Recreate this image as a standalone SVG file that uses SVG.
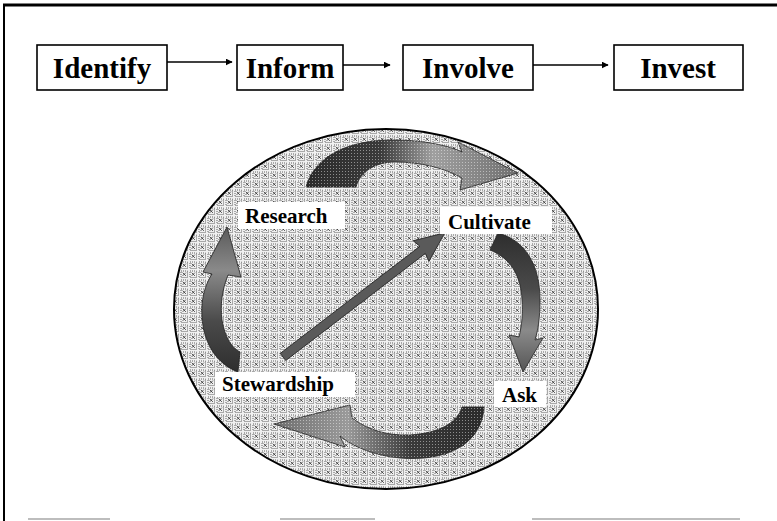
<svg xmlns="http://www.w3.org/2000/svg" width="777" height="521" viewBox="0 0 777 521">
  <style>
    .box { fill: #ffffff; stroke: #000000; stroke-width: 1.6; }
    .lbl { font-family: "Liberation Serif", "Times New Roman", serif; font-weight: bold; font-size: 29px; fill: #000000; }
    .clbl { font-family: "Liberation Serif", "Times New Roman", serif; font-weight: bold; font-size: 21px; fill: #000000; }
    .tag { fill: #ffffff; stroke: none; }
    .flow { stroke: #000000; stroke-width: 1.5; fill: none; }
    .cyc { stroke: #222222; stroke-width: 0.8; }
  </style>
  <defs>
    <marker id="ah" viewBox="0 0 10 10" refX="9" refY="5" markerWidth="7" markerHeight="7" markerUnits="userSpaceOnUse" orient="auto">
      <path d="M0 0 L10 5 L0 10 Z" fill="#000000"/>
    </marker>
    <pattern id="mesh" width="9" height="9" patternUnits="userSpaceOnUse">
      <rect width="9" height="9" fill="#f0f0f0"/>
      <rect x="1" y="1" width="6.5" height="6.5" fill="none" stroke="#3c3c3c" stroke-width="0.8" stroke-dasharray="1 1"/>
      <path d="M2.6 2.6 L5.9 5.9 M5.9 2.6 L2.6 5.9" stroke="#2c2c2c" stroke-width="0.8"/>
    </pattern>
    <pattern id="dots" width="3" height="3" patternUnits="userSpaceOnUse">
      <rect width="3" height="3" fill="none"/>
      <rect x="0" y="0" width="1" height="1" fill="#ffffff" fill-opacity="0.45"/>
    </pattern>
    <linearGradient id="gTop" x1="0" y1="0" x2="1" y2="0">
      <stop offset="0" stop-color="#2a2a2a"/>
      <stop offset="0.35" stop-color="#3a3a3a"/>
      <stop offset="0.6" stop-color="#a0a0a0"/>
      <stop offset="1" stop-color="#6e6e6e"/>
    </linearGradient>
    <linearGradient id="gBot" x1="1" y1="0" x2="0" y2="0">
      <stop offset="0" stop-color="#2a2a2a"/>
      <stop offset="0.35" stop-color="#3a3a3a"/>
      <stop offset="0.65" stop-color="#9a9a9a"/>
      <stop offset="1" stop-color="#6e6e6e"/>
    </linearGradient>
    <linearGradient id="gRight" x1="0" y1="0" x2="0" y2="1">
      <stop offset="0" stop-color="#2e2e2e"/>
      <stop offset="0.4" stop-color="#4a4a4a"/>
      <stop offset="0.7" stop-color="#8a8a8a"/>
      <stop offset="1" stop-color="#555555"/>
    </linearGradient>
    <linearGradient id="gLeft" x1="0" y1="1" x2="0" y2="0">
      <stop offset="0" stop-color="#2e2e2e"/>
      <stop offset="0.35" stop-color="#4a4a4a"/>
      <stop offset="0.7" stop-color="#8a8a8a"/>
      <stop offset="1" stop-color="#5a5a5a"/>
    </linearGradient>
  </defs>

  <rect x="0" y="0" width="777" height="521" fill="#ffffff"/>

  <!-- outer frame -->
  <g id="frame">
    <line x1="3" y1="5" x2="777" y2="5" stroke="#000000" stroke-width="3"/>
    <line x1="4" y1="4" x2="4" y2="521" stroke="#000000" stroke-width="2"/>
    <g stroke="#bdbdbd" stroke-width="2">
      <line x1="28" y1="519" x2="110" y2="519"/>
      <line x1="280" y1="519" x2="375" y2="519"/>
      <line x1="532" y1="519" x2="740" y2="519"/>
    </g>
  </g>

  <!-- top process row -->
  <g id="identify">
    <rect class="box" x="37" y="45" width="130" height="45"/>
    <text class="lbl" x="102" y="78" text-anchor="middle">Identify</text>
  </g>
  <g id="inform">
    <rect class="box" x="237" y="45" width="106" height="45"/>
    <text class="lbl" x="290" y="78" text-anchor="middle">Inform</text>
  </g>
  <g id="involve">
    <rect class="box" x="403" y="45" width="130" height="45"/>
    <text class="lbl" x="468" y="78" text-anchor="middle">Involve</text>
  </g>
  <g id="invest">
    <rect class="box" x="614" y="45" width="129" height="45"/>
    <text class="lbl" x="678" y="78" text-anchor="middle">Invest</text>
  </g>

  <!-- cycle background -->
  <g id="cycle-disc">
    <ellipse cx="386" cy="309" rx="212" ry="180" fill="url(#mesh)" stroke="#000000" stroke-width="2"/>
  </g>

  <!-- connectors -->
  <g id="connectors">
    <line class="flow" x1="167" y1="62" x2="232" y2="62" marker-end="url(#ah)"/>
    <line class="flow" x1="343" y1="65" x2="390" y2="65" marker-end="url(#ah)"/>
    <line class="flow" x1="533" y1="65" x2="608" y2="65" marker-end="url(#ah)"/>

    <!-- Research -> Cultivate (top) -->
    <path class="cyc" fill="url(#gTop)" d="M 306 187 C 315 155 350 140 392 140 C 425 140 450 146 462 152 L 458 142 L 518 173 L 460 190 L 462 178 C 445 168 420 162 395 162 C 375 162 360 172 356 187 Z"/>
    <!-- Cultivate -> Ask (right) -->
    <path class="cyc" fill="url(#gRight)" d="M 498 233 C 525 240 540 265 540 300 C 540 318 538 330 535 340 L 543 338 L 523 372 L 509 335 L 519 337 C 522 325 523 312 522 300 C 521 275 510 258 490 250 Z"/>
    <!-- Ask -> Stewardship (bottom) -->
    <path class="cyc" fill="url(#gBot)" d="M 484 407 C 482 445 445 462 400 458 C 372 455 352 446 340 436 L 345 447 L 274 424 L 350 405 L 352 418 C 368 430 388 436 410 435 C 440 433 458 422 462 407 Z"/>
    <!-- Stewardship -> Research (left) -->
    <path class="cyc" fill="url(#gLeft)" d="M 238 372 C 212 362 200 335 202 305 C 203 292 207 282 212 274 L 203 272 L 227 227 L 241 277 L 228 275 C 222 290 220 305 222 320 C 225 338 232 348 240 352 Z"/>
    <!-- Stewardship -> Cultivate (diagonal) -->
    <g transform="translate(283 357) rotate(-37.5)">
      <path class="cyc" fill="#5a5a5a" d="M 0 -4.5 L 176 -4.5 L 174 -13 L 204 0 L 174 13 L 176 4.5 L 0 4.5 Z"/>
    </g>
    <g fill="url(#dots)" stroke="none">
      <path d="M 306 187 C 315 155 350 140 392 140 C 425 140 450 146 462 152 L 458 142 L 518 173 L 460 190 L 462 178 C 445 168 420 162 395 162 C 375 162 360 172 356 187 Z"/>
      <path d="M 484 407 C 482 445 445 462 400 458 C 372 455 352 446 340 436 L 345 447 L 274 424 L 350 405 L 352 418 C 368 430 388 436 410 435 C 440 433 458 422 462 407 Z"/>
    </g>
  </g>

  <!-- cycle stage labels -->
  <g id="research">
    <rect class="tag" x="238" y="202" width="107" height="27"/>
    <text class="clbl" x="245" y="223">Research</text>
  </g>
  <g id="cultivate">
    <rect class="tag" x="440" y="207" width="112" height="27"/>
    <text class="clbl" x="448" y="229">Cultivate</text>
  </g>
  <g id="stewardship">
    <rect class="tag" x="215" y="372" width="140" height="25"/>
    <text class="clbl" x="222" y="391">Stewardship</text>
  </g>
  <g id="ask">
    <rect class="tag" x="494" y="381" width="52" height="26"/>
    <text class="clbl" x="502" y="402">Ask</text>
  </g>
</svg>
